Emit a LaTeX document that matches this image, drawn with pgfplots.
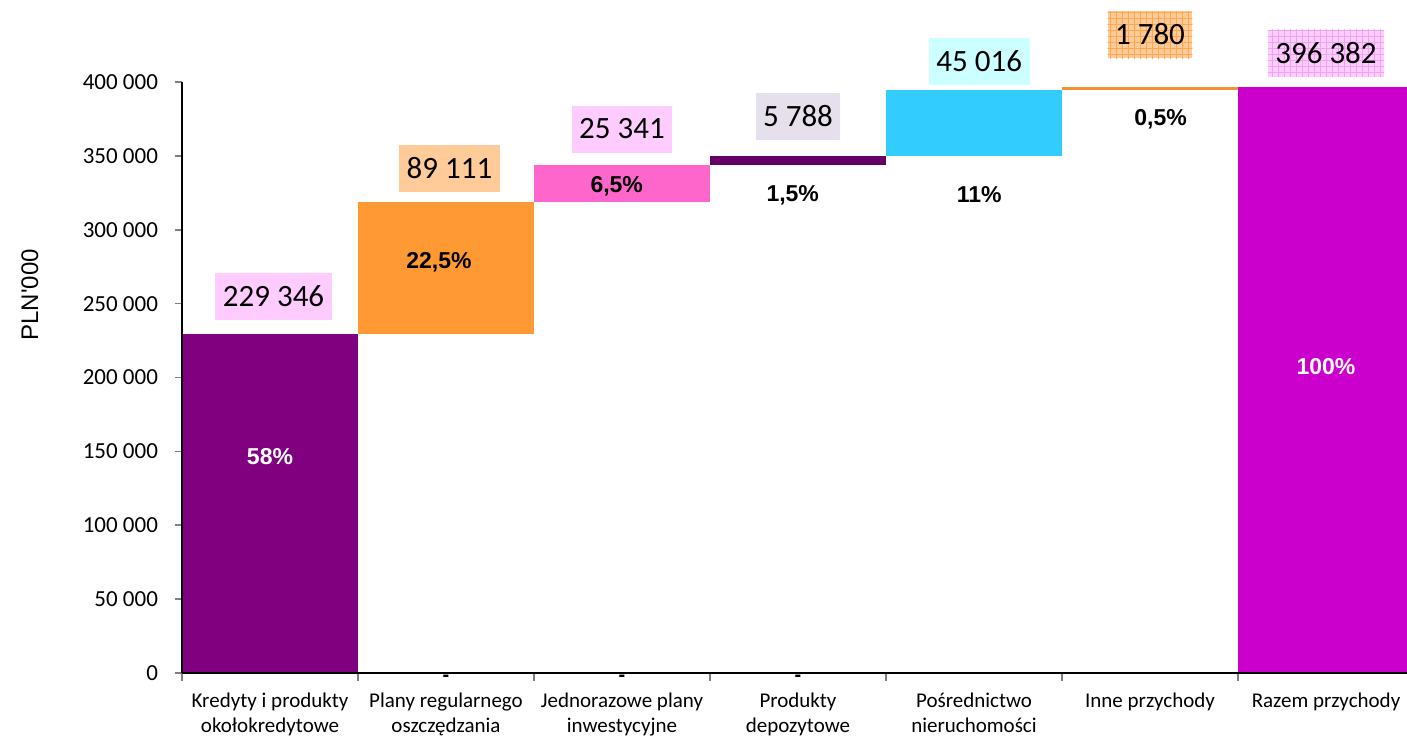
\documentclass[border=0pt]{standalone}
\usepackage{pgfplots}
\pgfplotsset{compat=1.18}
\usetikzlibrary{patterns}
\usepackage{fontspec}
\setmainfont{Carlito}
\newfontfamily\arial{Liberation Sans}

\definecolor{cPurple}{HTML}{800080}
\definecolor{cOrange}{HTML}{FF9933}
\definecolor{cPink}{HTML}{FF66CC}
\definecolor{cDark}{HTML}{660066}
\definecolor{cCyan}{HTML}{33CCFF}
\definecolor{cLine}{HTML}{F39132}
\definecolor{cMag}{HTML}{CC00CC}
\definecolor{bPink}{HTML}{FFCCFF}
\definecolor{bPeach}{HTML}{FFCC99}
\definecolor{bGrey}{HTML}{E6E0EC}
\definecolor{bCyan}{HTML}{CCFFFF}

\tikzset{
  valbox/.style={fill=#1, inner xsep=3.75pt, inner ysep=0pt, minimum height=23.5pt,
                 font=\fontsize{15.5}{16}\selectfont},
  pct/.style={font=\arial\bfseries\fontsize{11.5}{13}\selectfont},
  zero/.style={font=\arial\bfseries\fontsize{10}{10}\selectfont, inner sep=0pt},
}

\begin{document}
\begin{tikzpicture}
\useasboundingbox (-91pt,-32.5pt) rectangle (612.5pt,336.5pt);
\begin{axis}[
  at={(0pt,0pt)}, anchor=south west,
  scale only axis, width=616pt, height=295.5pt,
  xmin=-0.5, xmax=6.5, ymin=0, ymax=400000,
  scaled y ticks=false,
  axis x line*=bottom, axis y line*=left,
  axis line style={line width=0.8pt},
  axis on top,
  ybar, bar width=1,
  tick align=outside,
  major tick length=3.5pt,
  xtick={0,...,6},
  xticklabels={{Kredyty i produkty\\okołokredytowe},{Plany regularnego\\oszczędzania},
    {Jednorazowe plany\\inwestycyjne},{Produkty\\depozytowe},{Pośrednictwo\\nieruchomości},
    {Inne przychody},{Razem przychody}},
  xticklabel style={align=center, font=\fontsize{10.5}{12.5}\selectfont, yshift=-3pt},
  major x tick style={draw=none},
  minor xtick={-0.5,0.5,...,6.5},
  minor tick length=4pt,
  minor x tick style={line width=0.8pt},
  ytick={0,50000,...,400000},
  yticklabels={0,50 000,100 000,150 000,200 000,250 000,300 000,350 000,400 000},
  yticklabel style={font=\fontsize{11.5}{13}\selectfont, xshift=-5pt},
  major y tick style={line width=0.8pt},
  clip=false,
]
% bars: top values, white boxes cover the bases
\addplot[fill=cPurple, draw=none, bar shift=0pt] coordinates {(0,229346)};
\addplot[fill=cOrange, draw=none, bar shift=0pt] coordinates {(1,318457)};
\addplot[fill=white,   draw=none, bar shift=0pt] coordinates {(1,229346)};
\addplot[fill=cPink,   draw=none, bar shift=0pt] coordinates {(2,343798)};
\addplot[fill=white,   draw=none, bar shift=0pt] coordinates {(2,318457)};
\addplot[fill=cDark,   draw=none, bar shift=0pt] coordinates {(3,349586)};
\addplot[fill=white,   draw=none, bar shift=0pt] coordinates {(3,343798)};
\addplot[fill=cCyan,   draw=none, bar shift=0pt] coordinates {(4,394602)};
\addplot[fill=white,   draw=none, bar shift=0pt] coordinates {(4,349586)};
\addplot[fill=cLine,   draw=none, bar shift=0pt] coordinates {(5,396382)};
\addplot[fill=white,   draw=none, bar shift=0pt] coordinates {(5,394602)};
\addplot[fill=cMag,    draw=none, bar shift=0pt] coordinates {(6,396382)};

% value boxes
\node[valbox=bPink]  at (axis cs:0.02,255157) {229 346};
\node[valbox=bPeach] at (axis cs:1.02,341786) {89 111};
\node[valbox=bPink]  at (axis cs:2.0,368179) {25 341};
\node[valbox=bGrey]  at (axis cs:3.0,376978) {5 788};
\node[valbox=bCyan]  at (axis cs:4.03,414202) {45 016};
\node[valbox=white, preaction={fill=cOrange!50}, pattern=grid, pattern color=cOrange!85]
  at (axis cs:5.0,432138) {1 780};
\node[valbox=white, preaction={fill=bPink}, pattern=grid, pattern color=cMag!35]
  at (axis cs:6.0,419616) {396 382};

% percentage labels
\node[pct, text=white] at (axis cs:0,146189) {58\%};
\node[pct] at (axis cs:0.96,278165) {22,5\%};
\node[pct] at (axis cs:1.97,329602) {6,5\%};
\node[pct] at (axis cs:2.97,323510) {1,5\%};
\node[pct] at (axis cs:4.03,323510) {11\%};
\node[pct] at (axis cs:5.06,374947) {0,5\%};
\node[pct, text=white] at (axis cs:6,207101) {100\%};

% zero markers below the axis
\node[zero] at (axis cs:1,-3400) {-};
\node[zero] at (axis cs:2,-3400) {-};
\node[zero] at (axis cs:3,-3400) {-};

\node[rotate=90, font=\arial\fontsize{12}{14}\selectfont] at (rel axis cs:-0.1234,0.64) {PLN'000};
\end{axis}
\end{tikzpicture}
\end{document}
